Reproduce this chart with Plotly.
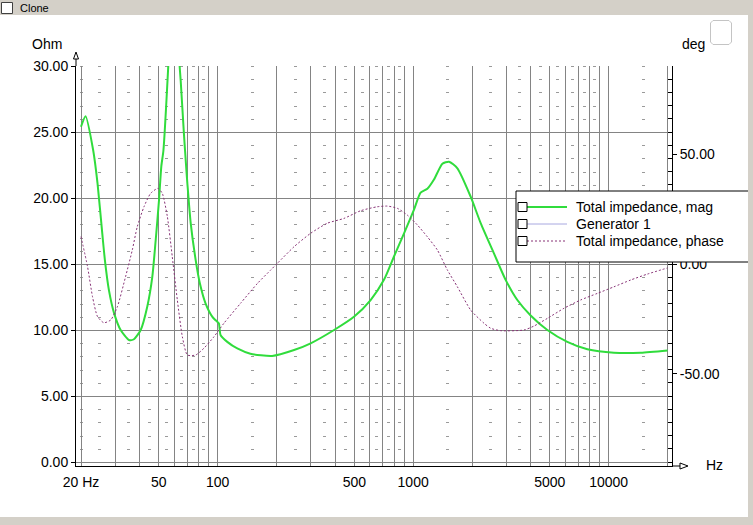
import plotly.graph_objects as go

# impedance magnitude (Ohm)
mag_freq = [20, 21.1, 23.1, 24.3, 25.7, 26.5, 27.8, 29.5, 31.9, 35.2, 37.3, 40.4, 43.7,
            46.3, 48.2, 50.1, 51.5, 52.8, 55.9, 59.2, 63.9, 64.7, 67.2, 69.2, 70.0, 72.8,
            77.2, 81.2, 86.8, 94.0, 100, 101.5, 103.6, 112, 126, 147, 190, 246, 299, 394,
            498, 606, 709, 797, 897, 1009, 1092, 1182, 1278, 1411, 1525, 1684, 1969, 2215,
            2591, 2972, 3412, 3990, 4858, 6146, 7780, 10640, 14580, 20000]
mag_ohm = [25.4, 26.2, 23.6, 21.1, 17.3, 15.3, 13.0, 11.3, 10.0, 9.24, 9.3, 10.0, 11.8,
           14.0, 16.8, 19.8, 22.4, 23.6, 30.0, 38.0, 30.0, 28.9, 24.9, 22.1, 21.1, 18.1,
           15.3, 13.5, 12.0, 11.0, 10.6, 10.5, 9.6, 9.1, 8.6, 8.2, 8.03, 8.48, 8.99, 10.0,
           11.0, 12.27, 13.8, 15.55, 17.3, 19.1, 20.4, 20.7, 21.4, 22.6, 22.75, 22.25, 20.1, 18.1,
           15.8, 13.8, 12.27, 11.1, 10.0, 9.1, 8.54, 8.28, 8.28, 8.45]

# impedance phase (deg)
phase_freq = [20, 21.6, 22.9, 24.3, 26.2, 28.4, 30.7, 33.8, 36.6, 38.8, 42.0, 45.4, 49.5,
              52.1, 55.3, 58.6, 62.2, 66.0, 70.0, 77.2, 85.1, 95.7, 107.7, 131, 160, 187,
              202, 246, 299, 364, 443, 539, 656, 738, 830, 934, 1051, 1182, 1330, 1496,
              1684, 1969, 2302, 2491, 2803, 3688, 4148, 4858, 5907, 7191, 8754, 10640,
              12960, 15780, 20000]
phase_deg = [12.5, -1.2, -14.9, -24.0, -26.8, -25.5, -19.5, -5.8, 6.4, 17.0, 26.1, 32.2, 34.5,
             32.2, 21.6, 3.3, -16.4, -33.2, -41.5, -41.5, -38.4, -33.2, -27.0, -17.9, -8.8, -2.7,
             0.3, 7.9, 14.0, 18.6, 20.8, 24.3, 26.1, 26.4, 25.4, 22.3, 17.8, 12.4, 6.4, -2.7,
             -10.4, -21.0, -27.0, -29.3, -30.4, -30.1, -28.3, -24.8, -20.2, -16.4, -13.4, -10.4,
             -7.3, -4.6, -1.8]

# axes
freq_grid = [20, 30, 40, 50, 60, 70, 80, 90, 100, 200, 300, 400, 500, 600, 700, 800, 900,
             1000, 2000, 3000, 4000, 5000, 6000, 7000, 8000, 9000, 10000, 20000]
freq_labels = {20: "20 Hz", 50: "50", 100: "100", 500: "500", 1000: "1000", 5000: "5000", 10000: "10000"}
freq_minor = [20, 25, 35, 45, 55, 65, 75, 85, 150, 250, 350, 450, 550, 650, 750, 850,
              1500, 2500, 3500, 4500, 5500, 6500, 7500, 8500, 15000]
ohm_ticks = [0, 5, 10, 15, 20, 25, 30]
deg_ticks = [-50, 0, 50]

legend_names = ["Total impedance, mag", "Generator 1", "Total impedance, phase"]

GREEN = "#30dc3c"
PURPLE = "#883377"
GEN = "#a8a8e0"
GRID = "#848484"
FRAME = "#d4d0c8"
FONT = dict(family="Arial", size=14, color="black")

W, H = 753, 525
L, R, T, B = 76, 672, 66, 466   # plot box in pixels


def px(x):
    return (x - L) / (R - L)


def py(y):
    return (B - y) / (B - T)


def path(pts, close=True):
    s = "M " + " L ".join(f"{px(x):.5f},{py(y):.5f}" for x, y in pts)
    return s + (" Z" if close else "")


fig = go.Figure()
fig.add_trace(go.Scatter(x=mag_freq, y=mag_ohm, mode="lines", name=legend_names[0],
                         line=dict(color=GREEN, width=2, shape="spline", smoothing=0.6)))
fig.add_trace(go.Scatter(x=phase_freq, y=phase_deg, mode="lines", name=legend_names[2], yaxis="y2",
                         line=dict(color=PURPLE, width=1, dash="2px,2px", shape="spline", smoothing=0.6)))
fig.add_trace(go.Scatter(x=[None], y=[None], yaxis="y3", showlegend=False))

shapes = []
annos = []

# axis arrows
shapes.append(dict(type="line", xref="paper", yref="paper", x0=px(L), x1=px(L), y0=py(T), y1=py(58),
                   line=dict(color="black", width=1)))
shapes.append(dict(type="path", xref="paper", yref="paper", path=path([(73.5, 59), (76, 52), (78.5, 59)]),
                   fillcolor="white", line=dict(color="black", width=1)))
shapes.append(dict(type="line", xref="paper", yref="paper", x0=px(R), x1=px(680), y0=py(B), y1=py(B),
                   line=dict(color="black", width=1)))
shapes.append(dict(type="path", xref="paper", yref="paper", path=path([(680, 463), (688, 466), (680, 469)]),
                   fillcolor="white", line=dict(color="black", width=1)))

# legend box
shapes.append(dict(type="rect", xref="paper", yref="paper", x0=px(516), x1=px(770), y0=py(191), y1=py(262),
                   fillcolor="white", line=dict(color="black", width=1)))
row_y = [207, 224, 241]
styles = [dict(color=GREEN, width=2), dict(color=GEN, width=1), dict(color=PURPLE, width=1, dash="2px,2px")]
for name, yy, st in zip(legend_names, row_y, styles):
    shapes.append(dict(type="line", xref="paper", yref="paper", x0=px(527), x1=px(567), y0=py(yy), y1=py(yy),
                       line=st))
    shapes.append(dict(type="rect", xref="paper", yref="paper", x0=px(518), x1=px(527),
                       y0=py(yy - 4.5), y1=py(yy + 4.5), fillcolor="white", line=dict(color="black", width=1)))
    annos.append(dict(x=px(574), y=py(yy), xref="paper", yref="paper", text=name, showarrow=False,
                      xanchor="left", yanchor="middle", font=FONT))

# window frame
shapes.append(dict(type="rect", xref="paper", yref="paper", x0=px(-5), x1=px(W + 5), y0=py(-5), y1=py(15),
                   fillcolor=FRAME, line=dict(width=0)))
shapes.append(dict(type="rect", xref="paper", yref="paper", x0=px(748), x1=px(W + 5), y0=py(0), y1=py(H + 5),
                   fillcolor=FRAME, line=dict(width=0)))
shapes.append(dict(type="rect", xref="paper", yref="paper", x0=px(-5), x1=px(W + 5), y0=py(517), y1=py(H + 5),
                   fillcolor=FRAME, line=dict(width=0)))
shapes.append(dict(type="rect", xref="paper", yref="paper", x0=px(1.5), x1=px(12.5), y0=py(2.5), y1=py(13.5),
                   fillcolor="white", line=dict(color="#404040", width=1)))
shapes.append(dict(type="path", xref="paper", yref="paper",
                   path=path([(713, 20.5), (729, 20.5), (731.5, 23), (731.5, 42), (729, 44.5),
                              (713, 44.5), (710.5, 42), (710.5, 23)]),
                   fillcolor="white", line=dict(color="#c4c4c4", width=1)))

annos.append(dict(x=px(18), y=py(8), xref="paper", yref="paper", text="Clone", showarrow=False,
                  xanchor="left", yanchor="middle", font=dict(family="Arial", size=11, color="black")))
annos.append(dict(x=px(47), y=py(44), xref="paper", yref="paper", text="Ohm", showarrow=False,
                  xanchor="center", yanchor="middle", font=FONT))
annos.append(dict(x=px(680), y=py(44), xref="paper", yref="paper", text="deg", showarrow=False,
                  xanchor="left", yanchor="middle", font=FONT))
annos.append(dict(x=px(704), y=py(465), xref="paper", yref="paper", text="Hz", showarrow=False,
                  xanchor="left", yanchor="middle", font=FONT))

# ranges: plot box is a few pixels wider than the data grid
x_dec = 195.5
x_lo = 1.30103 - 5 / x_dec
x_hi = x_lo + (R - L) / x_dec
ohm_px = 13.2
y_lo = -4 / ohm_px
deg_px = 2.193

fig.update_layout(
    width=W, height=H, autosize=False,
    margin=dict(l=L, r=W - R, t=T, b=H - B, pad=0),
    paper_bgcolor="white", plot_bgcolor="white",
    showlegend=False, font=FONT,
    shapes=shapes, annotations=annos,
    xaxis=dict(type="log", range=[x_lo, x_hi], tickmode="array", tickvals=freq_grid,
               ticktext=[freq_labels.get(f, "") for f in freq_grid],
               showgrid=True, gridcolor=GRID, gridwidth=1,
               showline=True, linecolor="black", linewidth=1, ticks="outside", ticklen=3,
               tickcolor="rgba(0,0,0,0)", zeroline=False, tickangle=0,
               minor=dict(tickmode="array", tickvals=freq_minor, showgrid=True, gridcolor="#9a9a9a",
                          gridwidth=3, griddash="1px,12.2px", ticks="")),
    yaxis=dict(range=[y_lo, 30], tickmode="array", tickvals=ohm_ticks,
               ticktext=[f"{v:.2f}" for v in ohm_ticks],
               showgrid=True, gridcolor=GRID, gridwidth=1, zeroline=False,
               showline=True, linecolor="black", linewidth=1, ticks="outside", ticklen=4, tickcolor="black"),
    yaxis2=dict(overlaying="y", side="right", range=[-(B - 264) / deg_px, (264 - T) / deg_px],
                tickmode="array", tickvals=deg_ticks, ticktext=[f"{v:.2f}" for v in deg_ticks],
                showgrid=False, zeroline=False, showline=True, linecolor="black", linewidth=1,
                ticks="outside", ticklen=4, tickcolor="black"),
    yaxis3=dict(overlaying="y", side="right", range=[y_lo, 30], tickmode="linear", tick0=0, dtick=1,
                showticklabels=False, showgrid=False, zeroline=False, showline=False,
                ticks="inside", ticklen=4, tickcolor="black"),
)

# page has a default body margin; drop it so the chart sits at the window corner
fig.write_html("out.html", config={"displayModeBar": False},
               post_script="document.body.style.margin='0';")
